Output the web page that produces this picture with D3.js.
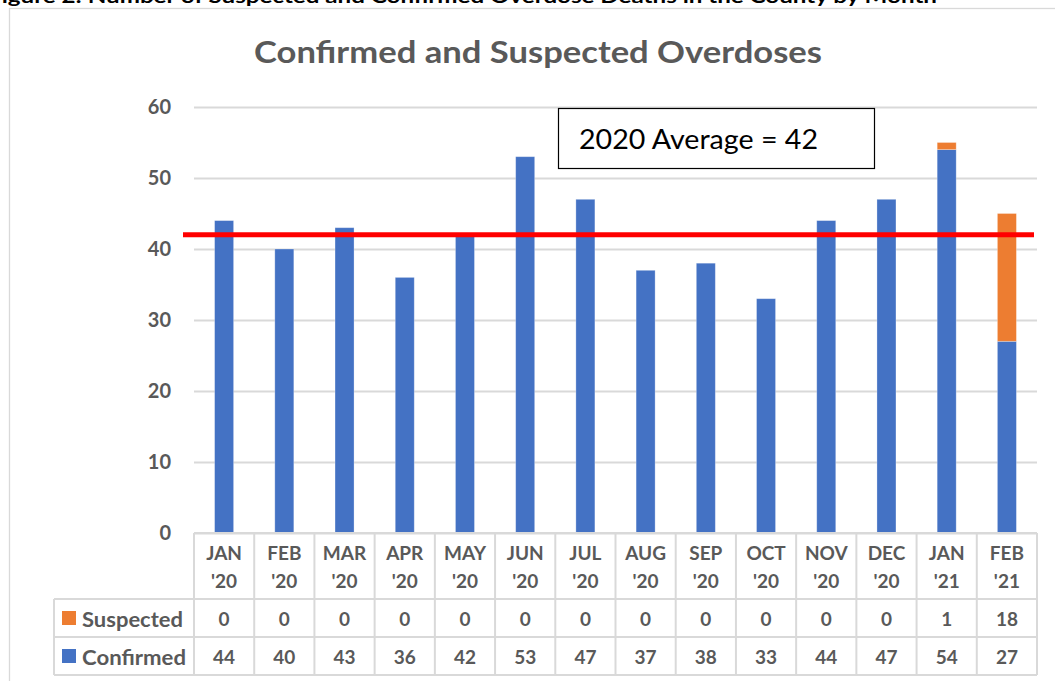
<!DOCTYPE html>
<html>
<head>
<meta charset="utf-8">
<script src="https://cdn.jsdelivr.net/npm/d3@7"></script>
<style>
  body { margin: 0; background: #fff; }
  svg { display: block; font-family: Lato, "Open Sans", sans-serif; }
</style>
</head>
<body>
<svg id="canvas"></svg>
<script>
const months = ["JAN", "FEB", "MAR", "APR", "MAY", "JUN", "JUL", "AUG", "SEP", "OCT", "NOV", "DEC", "JAN", "FEB"];
const years = ["'20", "'20", "'20", "'20", "'20", "'20", "'20", "'20", "'20", "'20", "'20", "'20", "'21", "'21"];
const confirmed = [44, 40, 43, 36, 42, 53, 47, 37, 38, 33, 44, 47, 54, 27];
const suspected = [0, 0, 0, 0, 0, 0, 0, 0, 0, 0, 0, 0, 1, 18];
const yTicks = [0, 10, 20, 30, 40, 50, 60];
const average = 42;

const width = 1055;
const height = 681;

const blue = "#4472C4";
const orange = "#ED7D31";
const grey = "#595959";
const gridColor = "#D9D9D9";

const canvas = d3.select("#canvas").attr("width", width).attr("height", height);

// table of rows for the stack
const data = months.map((m, i) => ({ key: i, confirmed: confirmed[i], suspected: suspected[i] }));

const xScale = d3.scaleBand().domain(d3.range(months.length)).range([194, 1037]);
const yScale = d3.scaleLinear().domain([0, 60]).range([533, 107]);

// caption above the chart, cut by the top edge in the source
canvas.append("text")
  .attr("x", -12)
  .attr("y", 3)
  .attr("textLength", 949)
  .attr("lengthAdjust", "spacingAndGlyphs")
  .style("font-size", "18px")
  .style("font-weight", "bold")
  .attr("fill", "#000")
  .text("Figure 2: Number of Suspected and Confirmed Overdose Deaths in the County by Month");

// chart frame
canvas.append("rect")
  .attr("x", 9.5).attr("y", 8.5)
  .attr("width", 1100).attr("height", 700)
  .attr("fill", "#fff")
  .attr("stroke", gridColor)
  .attr("stroke-width", 1.3);

canvas.append("text")
  .attr("x", 538)
  .attr("y", 63)
  .attr("text-anchor", "middle")
  .attr("textLength", 568)
  .attr("lengthAdjust", "spacingAndGlyphs")
  .style("font-size", "31px")
  .style("font-weight", "bold")
  .attr("fill", grey)
  .text("Confirmed and Suspected Overdoses");

// gridlines + y labels
const yAxis = d3.axisLeft(yScale)
  .tickValues(yTicks)
  .tickSize(-(1037 - 194))
  .tickPadding(23);

const gy = canvas.append("g")
  .attr("id", "y-axis")
  .attr("transform", "translate(194, 0)")
  .call(yAxis);
gy.select(".domain").remove();
gy.selectAll(".tick line").attr("stroke", gridColor).attr("stroke-width", 2);
gy.selectAll(".tick text")
  .attr("fill", grey)
  .style("font-size", "20px")
  .style("font-weight", "bold")
  .style("font-family", "Lato, sans-serif");

// stacked bars
const stack = d3.stack().keys(["confirmed", "suspected"]);
const series = stack(data);
const colors = { confirmed: blue, suspected: orange };
const barW = 19;

canvas.append("g")
  .selectAll("g")
  .data(series)
  .enter()
  .append("g")
  .attr("fill", (s) => colors[s.key])
  .selectAll("rect")
  .data((s) => s)
  .enter()
  .append("rect")
  .attr("x", (d) => xScale(d.data.key) + xScale.bandwidth() / 2 - barW / 2)
  .attr("y", (d) => yScale(d[1]))
  .attr("width", barW)
  .attr("height", (d) => yScale(d[0]) - yScale(d[1]))
  .attr("stroke", "#fff")
  .attr("stroke-opacity", 0.35)
  .attr("stroke-width", 0.8);

// average line
canvas.append("line")
  .attr("x1", 183).attr("x2", 1034)
  .attr("y1", yScale(average)).attr("y2", yScale(average))
  .attr("stroke", "#FF0000")
  .attr("stroke-width", 5);

// average box
canvas.append("rect")
  .attr("x", 558.5).attr("y", 108.5)
  .attr("width", 316).attr("height", 60)
  .attr("fill", "#fff")
  .attr("stroke", "#000")
  .attr("stroke-width", 1.2);
canvas.append("text")
  .attr("x", 579)
  .attr("y", 149)
  .attr("textLength", 239)
  .attr("lengthAdjust", "spacingAndGlyphs")
  .style("font-size", "27px")
  .attr("fill", "#000")
  .text("2020 Average = " + average);

// data table
const table = canvas.append("g").attr("id", "x-axis");
const rowTop = 533, rowHead = 599, rowSusp = 637, rowConf = 675;
const lineStyle = (sel) => sel.attr("stroke", gridColor).attr("stroke-width", 2);

table.append("line").attr("x1", 194).attr("x2", 1037).attr("y1", rowTop).attr("y2", rowTop).call(lineStyle);
[rowHead, rowSusp, rowConf].forEach((y) => {
  table.append("line").attr("x1", 54).attr("x2", 1037).attr("y1", y).attr("y2", y).call(lineStyle);
});
d3.range(months.length + 1).forEach((i) => {
  const x = i < months.length ? xScale(i) : xScale.range()[1];
  table.append("line").attr("x1", x).attr("x2", x).attr("y1", rowTop).attr("y2", rowConf).call(lineStyle);
});
table.append("line").attr("x1", 54).attr("x2", 54).attr("y1", rowHead).attr("y2", rowConf).call(lineStyle);

const cellText = (sel) => sel
  .attr("text-anchor", "middle")
  .attr("dominant-baseline", "central")
  .attr("fill", grey)
  .style("font-size", "19px")
  .style("font-weight", "bold");

const cells = table.selectAll(".cell")
  .data(data)
  .enter()
  .append("g")
  .attr("class", "cell")
  .attr("transform", (d) => `translate(${xScale(d.key) + xScale.bandwidth() / 2}, 0)`);

cells.append("text").attr("y", 552).call(cellText).text((d) => months[d.key]);
cells.append("text").attr("y", 580).call(cellText).text((d) => years[d.key]);
cells.append("text").attr("y", 618).call(cellText).text((d) => d.suspected);
cells.append("text").attr("y", 656).call(cellText).text((d) => d.confirmed);

// legend keys
const legend = [
  { label: "Suspected", color: orange, y: 618, w: 101 },
  { label: "Confirmed", color: blue, y: 656, w: 104 },
];
legend.forEach((l) => {
  table.append("rect")
    .attr("x", 62).attr("y", l.y - 7)
    .attr("width", 14).attr("height", 14)
    .attr("fill", l.color);
  table.append("text")
    .attr("x", 82).attr("y", l.y)
    .attr("dominant-baseline", "central")
    .attr("textLength", l.w)
    .attr("lengthAdjust", "spacingAndGlyphs")
    .attr("fill", grey)
    .style("font-size", "21px")
    .style("font-weight", "bold")
    .text(l.label);
});
</script>
</body>
</html>
